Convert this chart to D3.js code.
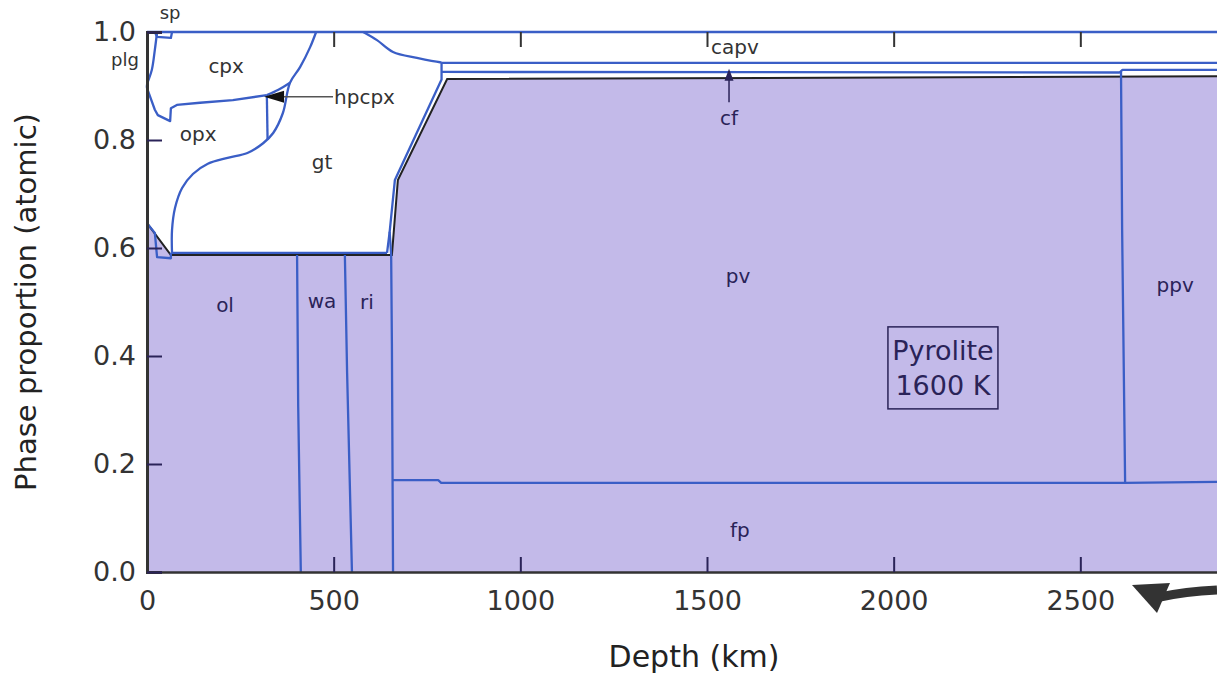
<!DOCTYPE html>
<html>
<head>
<meta charset="utf-8">
<script src="https://cdn.jsdelivr.net/npm/d3@7"></script>
<style>
  body { margin: 0; background: #fff; }
  svg { display: block; font-family: "DejaVu Sans", sans-serif; }
</style>
</head>
<body>
<div id="chart"></div>
<script>
// axis ticks
const xTicks = [0, 500, 1000, 1500, 2000, 2500];
const yTicks = [0, 0.2, 0.4, 0.6, 0.8, 1.0];

// top of the purple (lower mantle + olivine polymorph) field, black line
const outline = [[0, 0.646], [64, 0.587], [656, 0.587], [672, 0.726], [804, 0.913], [2890, 0.918]];

// phase boundaries, [depth km, cumulative proportion]
const topEdge = [[0, 1], [2890, 1]];
const spTop = [[21, 1], [27, 0.991], [64, 0.989], [67, 1]];
const plgEdge = [[27, 1], [21, 0.967], [13, 0.93], [0, 0.902], [0, 0.896]];
const opxCpx = [[0, 0.896], [21, 0.856], [29, 0.846], [62, 0.835], [64, 0.859], [80, 0.865], [142, 0.869], [230, 0.874], [321, 0.883]];
const hpcpxUpper = [[321, 0.883], [352, 0.893], [383, 0.906]];
const hpcpxLower = [[321, 0.883], [323, 0.8]];
const gtLeft = [[67, 0.591], [67, 0.633], [75, 0.674], [94, 0.711], [123, 0.737], [163, 0.756], [216, 0.767], [269, 0.776], [311, 0.794], [338, 0.813], [364, 0.85], [383, 0.906], [410, 0.935], [437, 0.972], [453, 1]];
const gtBottom = [[67, 0.591], [643, 0.591]];
const gtRight = [[643, 0.591], [650, 0.63], [664, 0.726], [789, 0.912], [789, 0.944]];
const capvEdge = [[789, 0.944], [785, 0.944], [723, 0.952], [659, 0.963], [616, 0.985], [579, 1]];
const capvLine1 = [[789, 0.943], [2890, 0.943]];
const capvLine2 = [[789, 0.926], [2605, 0.925], [2613, 0.93], [2890, 0.93]];
const spLow = [[0, 0.646], [21, 0.628], [27, 0.583], [64, 0.581], [64, 0.591]];
const olWa = [[402, 0.587], [405, 0.306], [412, 0]];
const waRi = [[530, 0.587], [536, 0.369], [549, 0]];
const riPv = [[659, 0], [656, 0.423], [654, 0.587], [650, 0.63]];
const fpPv = [[659, 0.17], [780, 0.17], [788, 0.165], [2620, 0.165], [2890, 0.167]];
const pvPpv = [[2609, 0.926], [2612, 0.633], [2620, 0.165]];

const smoothLines = [gtLeft, capvEdge, plgEdge, hpcpxUpper];
const straightLines = [topEdge, spTop, opxCpx, hpcpxLower, gtBottom, gtRight, capvLine1, capvLine2, spLow, olWa, waRi, riPv, fpPv, pvPpv];

// phase labels: name, depth, proportion, size
const whiteLabels = [
  ["sp", 62, 1.035, 18], ["plg", -59, 0.948, 18], ["cpx", 212, 0.937, 20], ["opx", 137, 0.811, 20],
  ["gt", 469, 0.759, 20], ["capv", 1575, 0.972, 20]
];
const purpleLabels = [
  ["ol", 209, 0.494, 20], ["wa", 469, 0.502, 20], ["ri", 589, 0.5, 20], ["pv", 1583, 0.548, 20],
  ["ppv", 2754, 0.531, 20], ["fp", 1588, 0.078, 20], ["cf", 1559, 0.841, 20]
];

const width = 1217, height = 674;
const purple = "#c3bae9", blue = "#3a5ec6", navy = "#2a2358";

const svg = d3.select("#chart").append("svg")
  .attr("width", width).attr("height", height);

const x = d3.scaleLinear().domain([0, 2890]).range([147, 147 + 2890 * 0.37333]);
const y = d3.scaleLinear().domain([0, 1]).range([572, 32]);

// purple field
const area = d3.area().x(d => x(d[0])).y0(y(0)).y1(d => y(d[1]));
svg.append("path").datum(outline)
  .attr("d", area).attr("fill", purple);

svg.append("path").datum(outline)
  .attr("d", d3.line().x(d => x(d[0])).y(d => y(d[1])))
  .attr("fill", "none").attr("stroke", "#222").attr("stroke-width", 2);

// phase boundaries
const line = d3.line().x(d => x(d[0])).y(d => y(d[1]));
const smooth = d3.line().x(d => x(d[0])).y(d => y(d[1])).curve(d3.curveCatmullRom.alpha(0.5));

svg.append("g").selectAll("path").data(straightLines).join("path")
  .attr("d", line).attr("fill", "none").attr("stroke", blue)
  .attr("stroke-width", 2.3).attr("stroke-linejoin", "round");
svg.append("g").selectAll("path").data(smoothLines).join("path")
  .attr("d", smooth).attr("fill", "none").attr("stroke", blue)
  .attr("stroke-width", 2.3);

// axes with inward ticks
const xAxis = svg.append("g")
  .attr("transform", `translate(0,${y(0)})`)
  .call(d3.axisBottom(x).tickValues(xTicks).tickSize(-15).tickPadding(19).tickFormat(d3.format("d")));
const xTop = svg.append("g")
  .attr("transform", `translate(0,${y(1)})`)
  .call(d3.axisTop(x).tickValues(xTicks).tickSize(-15).tickFormat(""));
const yAxis = svg.append("g")
  .attr("transform", `translate(${x(0)},0)`)
  .call(d3.axisLeft(y).tickValues(yTicks).tickSize(-15).tickPadding(11).tickFormat(d3.format(".1f")));

xTop.select(".domain").remove();
xAxis.select(".domain").attr("stroke", "#333").attr("stroke-width", 2.5);
yAxis.select(".domain").attr("stroke", "#333").attr("stroke-width", 3);
[xAxis, yAxis, xTop].forEach(g => {
  g.selectAll(".tick line").attr("stroke-width", 2)
    .attr("stroke", g === xTop ? "#333" : navy);
  g.selectAll(".tick text").attr("fill", "#333")
    .style("font-family", "DejaVu Sans").style("font-size", "27px");
});

// axis titles
svg.append("text")
  .attr("x", 694).attr("y", 667).attr("text-anchor", "middle")
  .attr("fill", "#222").style("font-size", "30px")
  .text("Depth (km)");
svg.append("text")
  .attr("transform", `translate(36,302) rotate(-90)`)
  .attr("text-anchor", "middle")
  .attr("fill", "#222").style("font-size", "29px")
  .text("Phase proportion (atomic)");

// labels
svg.append("g").selectAll("text").data(whiteLabels).join("text")
  .attr("x", d => x(d[1])).attr("y", d => y(d[2]))
  .attr("dy", "0.35em").attr("text-anchor", "middle")
  .attr("fill", "#333").style("font-size", d => d[3] + "px")
  .text(d => d[0]);
svg.append("g").selectAll("text").data(purpleLabels).join("text")
  .attr("x", d => x(d[1])).attr("y", d => y(d[2]))
  .attr("dy", "0.35em").attr("text-anchor", "middle")
  .attr("fill", navy).style("font-size", d => d[3] + "px")
  .text(d => d[0]);

// hpcpx pointer
const hp = { d: 501, v: 0.880 };
svg.append("text")
  .attr("x", x(hp.d)).attr("y", y(hp.v)).attr("dy", "0.35em")
  .attr("fill", "#333").style("font-size", "20px").text("hpcpx");
svg.append("line")
  .attr("x1", x(hp.d) - 1).attr("x2", x(335)).attr("y1", y(hp.v)).attr("y2", y(hp.v))
  .attr("stroke", "#555").attr("stroke-width", 1.5);
svg.append("path")
  .attr("d", `M${x(335) - 8},${y(hp.v)}l20,-6v12z`).attr("fill", "#111");

// cf pointer
const cf = { d: 1559, v0: 0.87, v1: 0.93 };
svg.append("line")
  .attr("x1", x(cf.d)).attr("x2", x(cf.d)).attr("y1", y(cf.v0)).attr("y2", y(cf.v1) + 8)
  .attr("stroke", navy).attr("stroke-width", 1.5);
svg.append("path")
  .attr("d", `M${x(cf.d)},${y(cf.v1) - 1}l-4.5,12h9z`).attr("fill", navy);

// annotation box
const box = svg.append("g").attr("transform", `translate(${x(2132)},${y(0.378)})`);
box.append("rect").attr("x", -55).attr("y", -41).attr("width", 110).attr("height", 82)
  .attr("fill", "none").attr("stroke", navy).attr("stroke-width", 1.5);
box.append("text").attr("text-anchor", "middle").attr("y", -8)
  .attr("fill", navy).style("font-size", "27px").text("Pyrolite");
box.append("text").attr("text-anchor", "middle").attr("y", 27)
  .attr("fill", navy).style("font-size", "27px").text("1600 K");

// curved arrow at lower right
svg.append("path")
  .attr("d", "M1217,590 C1195,591 1178,593 1160,597")
  .attr("fill", "none").attr("stroke", "#333").attr("stroke-width", 9);
svg.append("path")
  .attr("d", "M1132,585 L1170,583 L1157,613 Z").attr("fill", "#333");
</script>
</body>
</html>
